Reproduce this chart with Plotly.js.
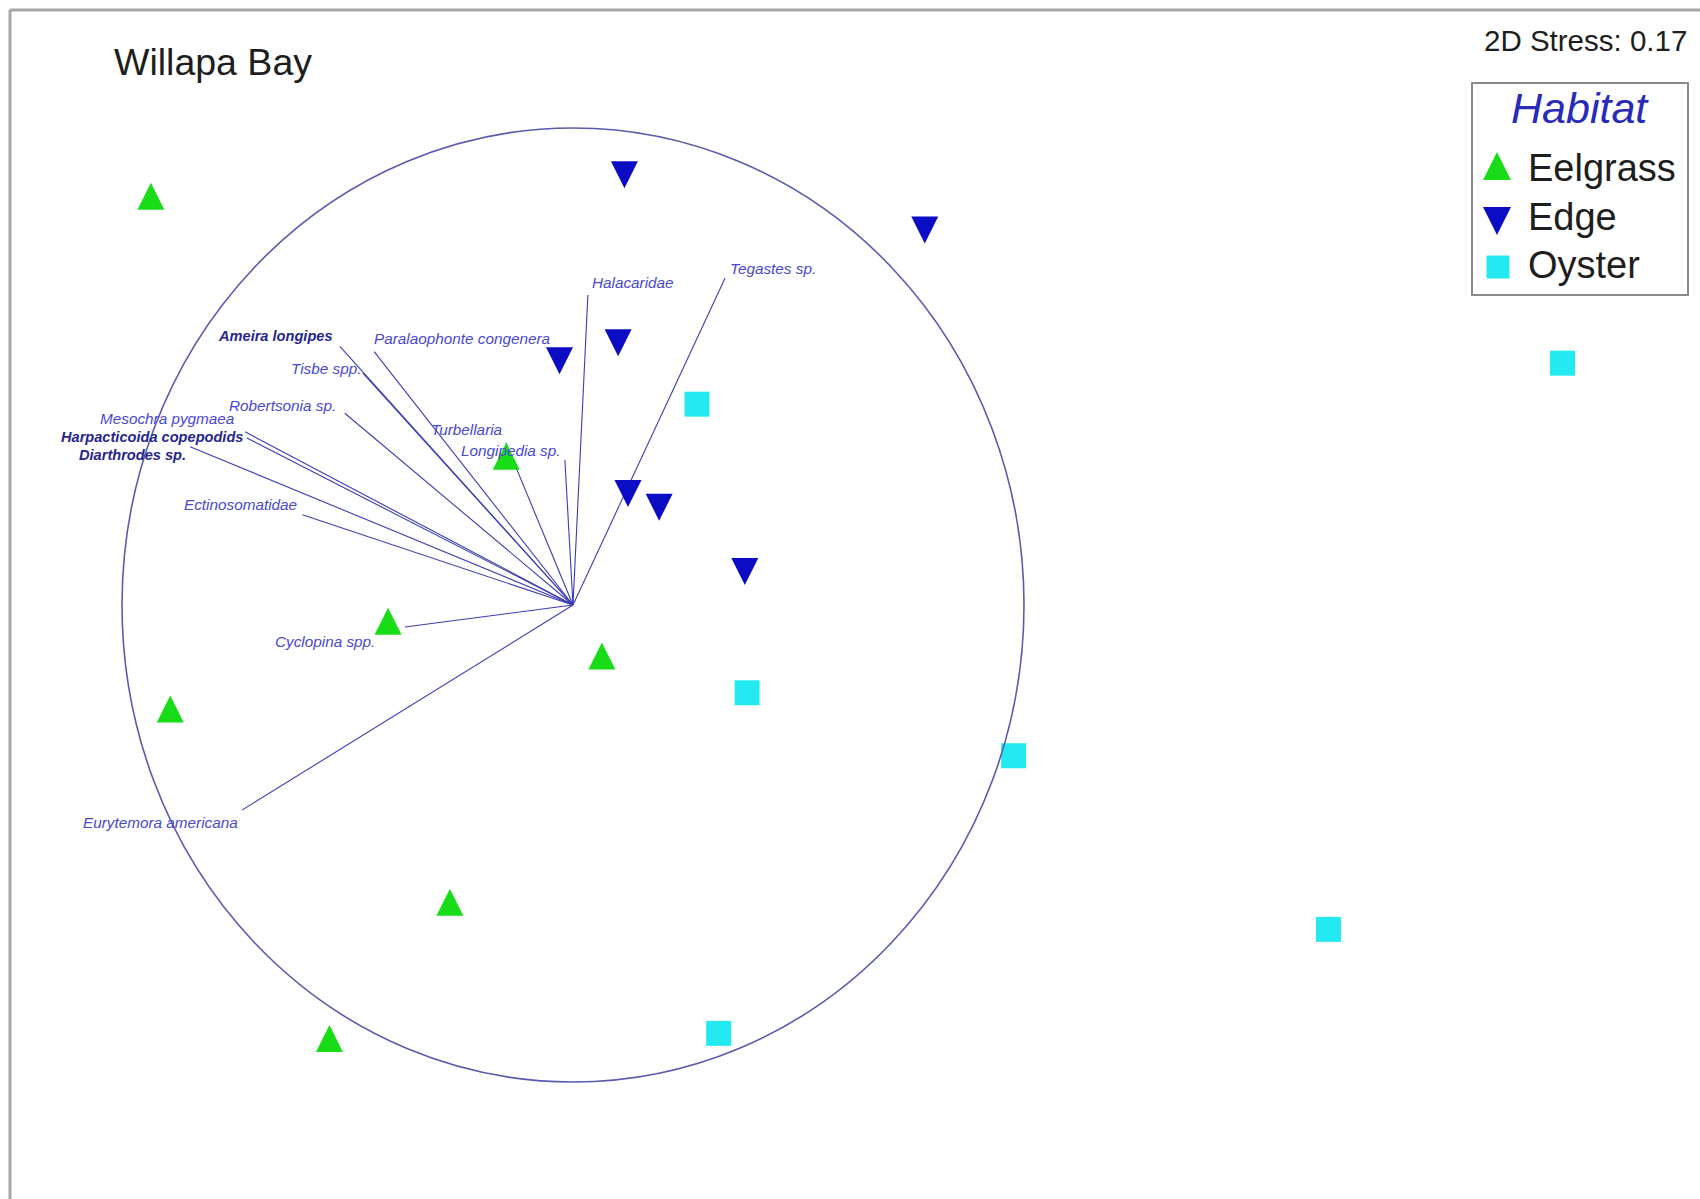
<!DOCTYPE html>
<html>
<head>
<meta charset="utf-8">
<script src="https://cdn.plot.ly/plotly-3.0.1.min.js"></script>
<style>
html,body{margin:0;padding:0;background:#ffffff;}
#chart{width:1700px;height:1199px;}
</style>
</head>
<body>
<div id="chart"></div>
<script>
// ---- Data (NMDS ordination coordinates; vector circle radius = 1) ----
const eelgrassX = [-0.936, -0.148, -0.410, 0.064, -0.893, -0.273, -0.540];
const eelgrassY = [0.857, 0.312, -0.034, -0.107, -0.218, -0.623, -0.909];

const edgeX = [0.114, 0.780, 0.100, -0.030, 0.122, 0.191, 0.381];
const edgeY = [0.902, 0.786, 0.550, 0.512, 0.234, 0.205, 0.070];

const oysterX = [2.194, 0.275, 0.386, 0.977, 1.675, 0.323];
const oysterY = [0.507, 0.421, -0.184, -0.316, -0.680, -0.898];

const vectorNames = [
  "Tegastes sp.", "Halacaridae", "Paralaophonte congenera", "Ameira longipes",
  "Tisbe spp.", "Robertsonia sp.", "Mesochra pygmaea", "Harpacticoida copepodids",
  "Diarthrodes sp.", "Turbellaria", "Longipedia sp.", "Ectinosomatidae",
  "Cyclopina spp.", "Eurytemora americana"
];
const vectorX = [0.337, 0.033, -0.441, -0.517, -0.466, -0.506, -0.727, -0.723, -0.849, -0.149, -0.018, -0.600, -0.373, -0.734];
const vectorY = [0.685, 0.650, 0.531, 0.542, 0.486, 0.402, 0.363, 0.350, 0.332, 0.340, 0.304, 0.189, -0.046, -0.430];

const habitatNames = ["Eelgrass", "Edge", "Oyster"];
const chartTitle = "Willapa Bay";
const stressText = "2D Stress: 0.17";
const legendTitle = "Habitat";

// ---- Layout / style (not data) ----
const W = 1700, H = 1199;
const X0 = 573, Y0 = 605, SX = 451, SY = 477;   // pixel origin and unit scale of the ordination
const px = x => x / W;
const py = y => 1 - y / H;

const labelAnchor = ["left","left","left","right","right","right","right","right","right","right","right","right","right","right"];
const labelDX = [3, 2, -2, -5, 0, -7, -9, -2, -2, -2, -2, -3, -28, -2];
const labelDY = [10, 12, 13, 10, 5, 8, 13, 1, -8, 13, 9, 10, -15, -12];
const labelBold = [false,false,false,true,false,false,false,true,true,false,false,false,false,false];

const colEel = "#18dc18", colEdge = "#0c0cc4", colOys = "#22eaf0";
const vecColor = "#3c3cb4", labColor = "#4848d0", labBoldColor = "#26268c";
const mSize = 27;

// vectors from origin
const vx = [], vy = [];
vectorX.forEach((x, i) => { vx.push(0, x, null); vy.push(0, vectorY[i], null); });

const traces = [
  { type: "scatter", mode: "lines", x: vx, y: vy, hoverinfo: "skip", showlegend: false,
    line: { color: vecColor, width: 1.1 } },
  { type: "scatter", mode: "markers", name: habitatNames[0], x: eelgrassX, y: eelgrassY, showlegend: false,
    marker: { symbol: "arrow-down", angle: 180, standoff: mSize / 2, size: mSize, color: colEel, line: { width: 0 } } },
  { type: "scatter", mode: "markers", name: habitatNames[1], x: edgeX, y: edgeY, showlegend: false,
    marker: { symbol: "arrow-down", angle: 0, standoff: mSize / 2, size: mSize, color: colEdge, line: { width: 0 } } },
  { type: "scatter", mode: "markers", name: habitatNames[2], x: oysterX, y: oysterY, showlegend: false,
    marker: { symbol: "square", size: 25, color: colOys, line: { width: 0 } } },
  // legend key symbols on a pixel-space overlay axis
  { type: "scatter", mode: "markers", xaxis: "x2", yaxis: "y2", showlegend: false, hoverinfo: "skip",
    x: [1497, 1497], y: [166, 221],
    marker: { symbol: "arrow-down", angle: [180, 0], standoff: 14, size: 28, color: [colEel, colEdge], line: { width: 0 } } },
  { type: "scatter", mode: "markers", xaxis: "x2", yaxis: "y2", showlegend: false, hoverinfo: "skip",
    x: [1498], y: [267],
    marker: { symbol: "square", size: 23, color: colOys, line: { width: 0 } } }
];

const annotations = vectorNames.map((name, i) => ({
  x: vectorX[i], y: vectorY[i], xref: "x", yref: "y",
  text: labelBold[i] ? "<b><i>" + name + "</i></b>" : "<i>" + name + "</i>",
  showarrow: false, xanchor: labelAnchor[i], yanchor: "middle",
  xshift: labelDX[i], yshift: labelDY[i],
  font: { family: "Liberation Sans, Arial, sans-serif", size: labelBold[i] ? 14.6 : 15.3, color: labelBold[i] ? labBoldColor : labColor }
}));

annotations.push(
  { x: px(112), y: py(62), xref: "paper", yref: "paper", text: chartTitle, showarrow: false,
    xanchor: "left", yanchor: "middle",
    font: { family: "Liberation Sans, Arial, sans-serif", size: 37.5, color: "#1e1e1e" } },
  { x: px(1689), y: py(41), xref: "paper", yref: "paper", text: stressText, showarrow: false,
    xanchor: "right", yanchor: "middle",
    font: { family: "Liberation Sans, Arial, sans-serif", size: 29.5, color: "#1e1e1e" } },
  { x: px(1580), y: py(108), xref: "paper", yref: "paper", text: "<i>" + legendTitle + "</i>", showarrow: false,
    xanchor: "center", yanchor: "middle",
    font: { family: "Liberation Sans, Arial, sans-serif", size: 43, color: "#2a2ab8" } }
);
const legendY = [168, 217, 265];
habitatNames.forEach((n, i) => annotations.push({
  x: px(1526), y: py(legendY[i]), xref: "paper", yref: "paper", text: n, showarrow: false,
  xanchor: "left", yanchor: "middle",
  font: { family: "Liberation Sans, Arial, sans-serif", size: 38, color: "#1e1e1e" }
}));

const shapes = [
  { type: "circle", xref: "x", yref: "y", x0: -1, x1: 1, y0: -1, y1: 1,
    line: { color: "#5a5ab0", width: 1.6 } },
  { type: "line", xref: "paper", yref: "paper", x0: px(10), x1: 1, y0: py(10), y1: py(10),
    line: { color: "#a6a6a6", width: 3 } },
  { type: "line", xref: "paper", yref: "paper", x0: px(10), x1: px(10), y0: py(10), y1: 0,
    line: { color: "#a6a6a6", width: 3 } },
  { type: "rect", xref: "paper", yref: "paper", x0: px(1472), x1: px(1688), y0: py(83), y1: py(295),
    line: { color: "#8a8a8a", width: 2 }, fillcolor: "rgba(0,0,0,0)" }
];

const layout = {
  width: W, height: H,
  margin: { l: 0, r: 0, t: 0, b: 0, pad: 0 },
  paper_bgcolor: "#ffffff", plot_bgcolor: "#ffffff",
  showlegend: false,
  xaxis: { range: [(0 - X0) / SX, (W - X0) / SX], visible: false, fixedrange: true },
  yaxis: { range: [(Y0 - H) / SY, Y0 / SY], visible: false, fixedrange: true },
  xaxis2: { range: [0, W], visible: false, overlaying: "x", fixedrange: true },
  yaxis2: { range: [H, 0], visible: false, overlaying: "y", fixedrange: true },
  annotations: annotations,
  shapes: shapes
};

Plotly.newPlot("chart", traces, layout, { displayModeBar: false, staticPlot: true });
</script>
</body>
</html>
